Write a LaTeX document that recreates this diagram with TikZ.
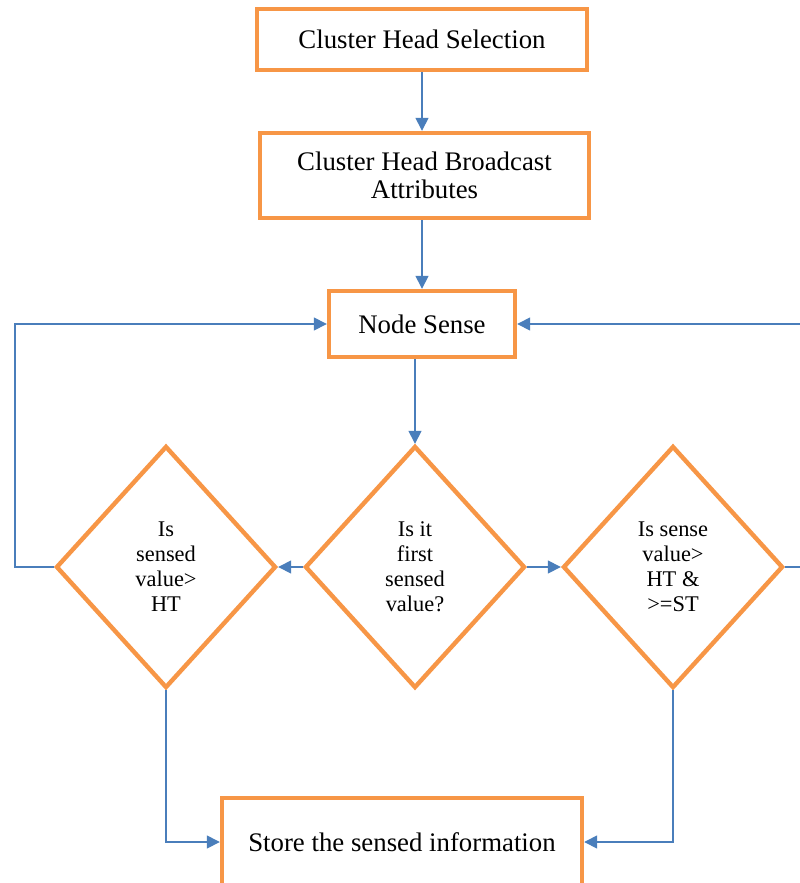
\documentclass[tikz,border=0pt]{standalone}
\usepackage{fontspec}
\setmainfont{Liberation Serif}
\usetikzlibrary{arrows.meta,shapes.geometric}
\definecolor{boxorange}{HTML}{F79646}
\definecolor{lineblue}{HTML}{4A7EBB}
\tikzset{
  procbox/.style={draw=boxorange,line width=2.2pt,fill=white,align=center,
                  inner sep=0pt,font=\fontsize{13.4}{14}\selectfont},
  decide/.style={draw=boxorange,line width=2.2pt,fill=white,diamond,aspect=0.9,
                 inner sep=0pt,align=center,minimum width=110pt,minimum height=121pt,
                 font=\fontsize{11.2}{12.5}\selectfont},
  flow/.style={draw=lineblue,line width=0.75pt,-{Triangle[length=6.5pt,width=6.5pt]}},
}

\begin{document}
\begin{tikzpicture}[x=0.5pt,y=-0.5pt]
  \useasboundingbox (0,0) rectangle (799,883);
  \node[procbox,minimum width=165pt,minimum height=30.5pt] (select) at (422,39.5) {Cluster Head Selection};
  \node[procbox,minimum width=164.5pt,minimum height=42.5pt] (bcast) at (424.5,175.5) {Cluster Head Broadcast\\Attributes};
  \node[procbox,minimum width=93pt,minimum height=33pt] (sense) at (422,324) {Node Sense};
  \node[decide] (first) at (415,567) {Is it\\first\\sensed\\value?};
  \node[decide] (ht) at (166,567) {Is\\sensed\\value>\\HT};
  \node[decide] (st) at (673,567) {Is sense\\value>\\HT \&\\>=ST};
  \node[procbox,minimum width=180pt,minimum height=44pt] (store) at (402,842) {Store the sensed information};
  \coordinate (lturn) at (15,567);
  \coordinate (rturn) at (815,567);
  % main line
  \draw[flow] (select) -- (bcast.north -| select);
  \draw[flow] (bcast.south -| select) -- (sense);
  \draw[flow] (sense.south -| first) -- (first.north);
  \draw[flow] (first.west) -- (ht.east);
  \draw[flow] (first.east) -- (st.west);
  % loops back to sensing
  \draw[flow] (ht.west) -- (lturn) |- (sense.west);
  \draw[flow] (st.east) -- (rturn) |- (sense.east);
  % storing
  \draw[flow] (ht.south) |- (store.west);
  \draw[flow] (st.south) |- (store.east);
\end{tikzpicture}
\end{document}
